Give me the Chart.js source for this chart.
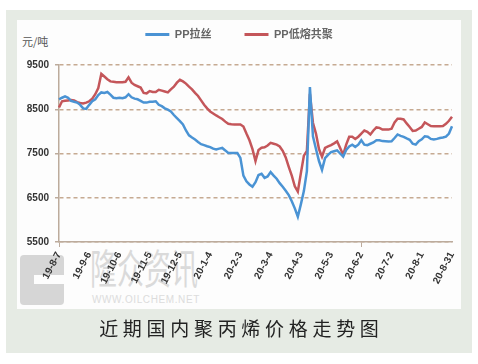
<!DOCTYPE html>
<html><head><meta charset="utf-8">
<script src="https://cdn.jsdelivr.net/npm/chart.js@4.4.1/dist/chart.umd.min.js"></script>
<style>
html,body{margin:0;padding:0;background:#fff;width:478px;height:364px;overflow:hidden;font-family:"Noto Sans CJK SC","Liberation Sans",sans-serif;}
#outer{position:absolute;left:6px;top:10px;width:466px;height:343px;background:#e6ebe4;}
#panel{position:absolute;left:17px;top:20px;width:444px;height:289px;background:#fdfdfd;}
#logo{position:absolute;left:20px;top:255px;width:44px;height:50px;background:#d6d6d6;border-radius:4px;}
#logo .slot{position:absolute;left:14px;top:20px;width:30px;height:9px;background:#fdfdfd;}
#wmcn{position:absolute;left:90px;top:246px;font-size:27px;line-height:27px;color:#dadada;transform:scaleY(1.5);transform-origin:0 0;white-space:nowrap;}
#wmen{position:absolute;left:92px;top:294px;font-size:10px;line-height:12px;color:#dcdcdc;font-family:"Liberation Sans",sans-serif;letter-spacing:0.6px;white-space:nowrap;}
#ytitle{position:absolute;left:22px;top:34px;font-size:11px;line-height:14px;color:#555;white-space:nowrap;}
#caption{position:absolute;left:0;width:478px;top:316px;text-align:center;font-size:19px;line-height:24px;letter-spacing:4.7px;padding-left:4.7px;box-sizing:border-box;color:#222;white-space:nowrap;}
#c{position:absolute;left:0;top:0;}
</style>
</head><body>
<div id="outer"></div>
<div id="panel"></div>
<div id="logo"><div class="slot"></div></div>
<div id="wmcn">隆众资讯</div>
<div id="wmen">WWW.OILCHEM.NET</div>
<div id="ytitle">元/吨</div>
<canvas id="c" width="478" height="364"></canvas>
<div id="caption">近期国内聚丙烯价格走势图</div>
<script>
const seriesNames = ['PP拉丝', 'PP低熔共聚'];
const tickLabels = ['19-8-7','19-9-6','19-10-6','19-11-5','19-12-5','20-1-4','20-2-3','20-3-4','20-4-3','20-5-3','20-6-2','20-7-2','20-8-1','20-8-31'];
const raffia = [8725,8760,8790,8760,8690,8670,8650,8600,8520,8510,
8600,8680,8725,8820,8880,8870,8890,8830,8760,8750,
8760,8750,8770,8840,8770,8740,8725,8690,8650,8650,
8670,8670,8680,8600,8570,8520,8490,8450,8370,8300,
8230,8155,8020,7910,7860,7815,7760,7710,7690,7665,
7645,7610,7590,7610,7625,7570,7510,7510,7510,7510,
7400,7000,6870,6800,6750,6850,7015,7040,6950,6980,
7080,7000,6930,6830,6750,6660,6560,6420,6260,6070,
6350,6650,7100,9000,7890,7600,7330,7130,7395,7470,
7530,7550,7570,7500,7430,7580,7660,7700,7650,7700,
7800,7700,7690,7720,7750,7800,7800,7780,7775,7770,
7775,7850,7930,7900,7875,7840,7810,7720,7700,7780,
7820,7890,7880,7830,7815,7830,7850,7860,7880,7950,
8115];
const copolymer = [8540,8680,8690,8700,8710,8700,8660,8640,8630,8650,
8680,8740,8840,8980,9300,9240,9180,9130,9120,9110,
9110,9110,9120,9220,9100,9050,9020,8990,8870,8860,
8910,8890,8890,8940,8920,8900,8880,8950,9010,9100,
9165,9130,9080,9010,8950,8870,8800,8700,8600,8520,
8450,8405,8360,8320,8280,8220,8170,8160,8155,8155,
8155,8110,7950,7800,7600,7330,7580,7630,7640,7680,
7740,7720,7700,7660,7560,7410,7200,7000,6760,6640,
7050,7450,7560,8850,8195,7950,7600,7430,7625,7660,
7690,7730,7775,7625,7470,7700,7880,7880,7830,7880,
7950,8020,7990,7930,8020,8090,8080,8040,8040,8040,
8060,8200,8285,8285,8270,8180,8100,8010,8020,8060,
8100,8200,8160,8120,8115,8115,8115,8120,8170,8240,
8330];
const yTicks = [5500, 6500, 7500, 8500, 9500];

// categories: every 3rd day from 2019-08-07
const categories = [];
{
  const start = new Date(2019, 7, 7);
  for (let i = 0; i < raffia.length; i++) {
    const d = new Date(start.getFullYear(), start.getMonth(), start.getDate() + 3 * i);
    categories.push(String(d.getFullYear()).slice(2) + '-' + (d.getMonth() + 1) + '-' + d.getDate());
  }
}

const blue = '#4a93d4', red = '#c4565a';
const axisColor = '#bcab9c', gridColor = '#c6aa92';

const legendSpacer = {
  id: 'legendSpacer',
  beforeInit(chart) {
    const fit = chart.legend.fit;
    chart.legend.fit = function () { fit.call(this); this.height += 15; };
  }
};

new Chart(document.getElementById('c'), {
  type: 'line',
  data: {
    labels: categories,
    datasets: [
      { label: seriesNames[0], data: raffia, borderColor: blue, backgroundColor: blue, borderWidth: 2.5, pointRadius: 0, tension: 0 },
      { label: seriesNames[1], data: copolymer, borderColor: red, backgroundColor: red, borderWidth: 2.5, pointRadius: 0, tension: 0 }
    ]
  },
  plugins: [legendSpacer],
  options: {
    responsive: false,
    animation: false,
    layout: { padding: { left: 0, right: 0, top: -4, bottom: 0 } },
    plugins: {
      tooltip: { enabled: false },
      legend: {
        position: 'top',
        labels: {
          boxWidth: 24, boxHeight: 3, padding: 33, color: '#666',
          font: { size: 11, weight: 'bold', family: '"Liberation Sans","Noto Sans CJK SC",sans-serif' },
          generateLabels: (chart) => Chart.defaults.plugins.legend.labels.generateLabels(chart).map(l => Object.assign(l, { lineWidth: 0 }))
        }
      }
    },
    scales: {
      x: {
        type: 'category',
        grid: { drawOnChartArea: false, tickLength: 5, color: axisColor, tickColor: (ctx) => (ctx.index % 10 === 0 ? axisColor : 'rgba(0,0,0,0)') },
        border: { color: axisColor, width: 1.5 },
        ticks: {
          autoSkip: false, minRotation: 62, maxRotation: 62, padding: 3, color: '#333',
          font: { size: 10, weight: 'bold', family: '"Liberation Sans",sans-serif' },
          callback: (v, i) => (i % 10 === 0 ? tickLabels[i / 10] : null)
        },
        afterFit: (s) => { s.height = 122; }
      },
      y: {
        min: yTicks[0], max: yTicks[yTicks.length - 1],
        afterBuildTicks: (s) => { s.ticks = yTicks.map(v => ({ value: v })); },
        grid: { color: gridColor, lineWidth: 1.5, tickLength: 4, tickColor: axisColor, tickBorderDash: [] },
        border: { color: axisColor, width: 1.5, dash: [4, 3] },
        ticks: { padding: 6, color: '#333', font: { size: 10, weight: 'bold', family: '"Liberation Sans",sans-serif' }, callback: (v) => String(v) },
        afterFit: (s) => { s.width = 59; }
      },
      y2: {
        position: 'right',
        grid: { display: false },
        border: { display: false },
        ticks: { display: false },
        afterFit: (s) => { s.width = 26; }
      }
    }
  }
});
</script>
</body></html>
